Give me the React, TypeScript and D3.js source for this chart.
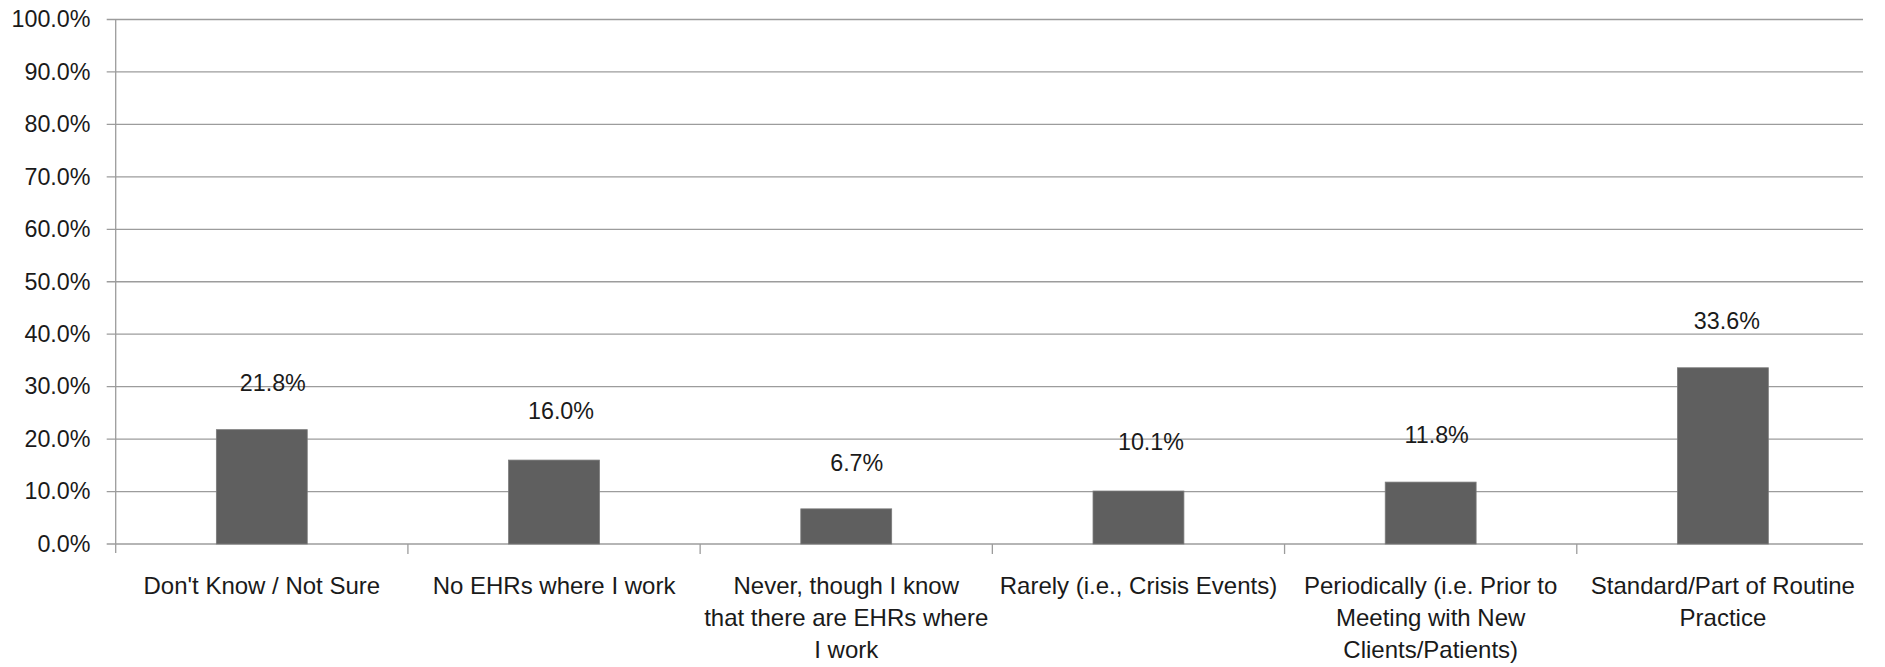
import React from "react";
import * as d3 from "d3";

// Survey responses: share of respondents per answer (percent)
const categories: string[][] = [
  ["Don't Know / Not Sure"],
  ["No EHRs where I work"],
  ["Never, though I know", "that there are EHRs where", "I work"],
  ["Rarely (i.e., Crisis Events)"],
  ["Periodically (i.e. Prior to", "Meeting with New", "Clients/Patients)"],
  ["Standard/Part of Routine", "Practice"],
];
const values: number[] = [21.8, 16.0, 6.7, 10.1, 11.8, 33.6];
const yTicks: number[] = [0, 10, 20, 30, 40, 50, 60, 70, 80, 90, 100];

// Hand-placed data label nudges (px) relative to each bar's top centre
const labelNudgeX: number[] = [11, 7, 10.5, 12.5, 6, 4];
const labelRise: number[] = [39, 41, 38, 41, 39, 38.5];

const W = 1885;
const H = 667;
const axisX = 115.7;
const bandEnd = 1869;
const gridEnd = 1863;
const yTop = 19.5;
const yBase = 544;
const tickLen = 9;
const barRatio = 0.311;

const FONT = "'Liberation Sans', Arial, sans-serif";
const TEXT = "#1a1a1a";
const GRID = "#9c9c9c";
const BAR = "#5f5f5f";

export default function App() {
  const keys = categories.map((_, i) => String(i));
  const x = d3.scaleBand<string>().domain(keys).range([axisX, bandEnd]).padding(0);
  const y = d3.scaleLinear().domain([0, 100]).range([yBase, yTop]);
  const bw = x.bandwidth();
  const barW = bw * barRatio;
  const fmt = (v: number) => d3.format(".1f")(v) + "%";

  return (
    <svg
      width={W}
      height={H}
      viewBox={`0 0 ${W} ${H}`}
      style={{ position: "absolute", left: 0, top: 0, background: "#fff" }}
    >
      {/* horizontal gridlines with left tick stubs */}
      {yTicks.map((t) => (
        <line
          key={"g" + t}
          x1={axisX - tickLen}
          x2={gridEnd}
          y1={y(t)}
          y2={y(t)}
          stroke={GRID}
          strokeWidth={1.3}
        />
      ))}
      {/* y axis line */}
      <line x1={axisX} x2={axisX} y1={yTop} y2={yBase + tickLen} stroke={GRID} strokeWidth={1.3} />
      {/* category separator ticks */}
      {keys.slice(1).map((k) => (
        <line
          key={"t" + k}
          x1={x(k)!}
          x2={x(k)!}
          y1={yBase}
          y2={yBase + tickLen + 1}
          stroke={GRID}
          strokeWidth={1.3}
        />
      ))}
      {/* y tick labels */}
      {yTicks.map((t) => (
        <text
          key={"yl" + t}
          x={90.5}
          y={y(t) + 7.8}
          textAnchor="end"
          fontFamily={FONT}
          fontSize={23.3}
          fill={TEXT}
        >
          {fmt(t)}
        </text>
      ))}
      {/* bars */}
      {values.map((v, i) => {
        const cx = x(keys[i])! + bw / 2;
        return (
          <rect
            key={"b" + i}
            x={cx - barW / 2}
            y={y(v)}
            width={barW}
            height={yBase - y(v)}
            fill={BAR}
            stroke="#7a7a7a"
            strokeWidth={0.8}
          />
        );
      })}
      {/* data labels */}
      {values.map((v, i) => {
        const cx = x(keys[i])! + bw / 2;
        return (
          <text
            key={"dl" + i}
            x={cx + labelNudgeX[i]}
            y={y(v) - labelRise[i]}
            textAnchor="middle"
            fontFamily={FONT}
            fontSize={23.3}
            fill={TEXT}
          >
            {fmt(v)}
          </text>
        );
      })}
      {/* category labels */}
      {categories.map((lines, i) => {
        const cx = x(keys[i])! + bw / 2;
        return (
          <text
            key={"c" + i}
            textAnchor="middle"
            fontFamily={FONT}
            fontSize={24}
            fill={TEXT}
          >
            {lines.map((ln, j) => (
              <tspan key={j} x={cx} y={594 + j * 32}>
                {ln}
              </tspan>
            ))}
          </text>
        );
      })}
    </svg>
  );
}
